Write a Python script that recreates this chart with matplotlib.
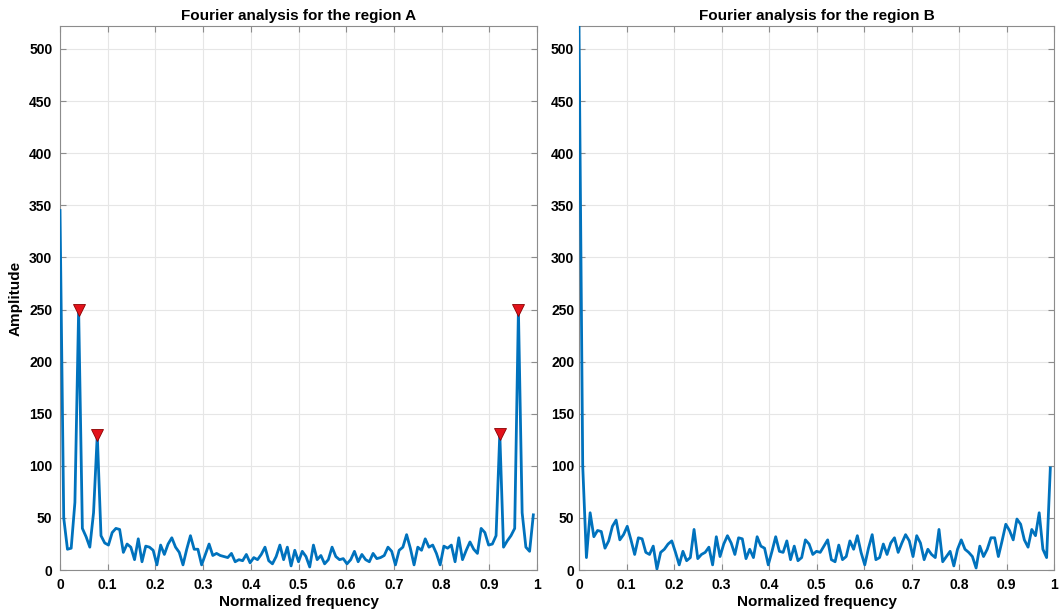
import matplotlib
matplotlib.use('Agg')
import matplotlib.pyplot as plt
import numpy as np

plt.rcParams['font.family'] = ['Liberation Sans', 'DejaVu Sans']
plt.rcParams['font.weight'] = 'bold'

# normalized frequency bins (128-point FFT)
n_bins = 128
freq = np.arange(n_bins) / n_bins

amp_a = [345, 50, 20, 21, 65, 250, 40, 32, 22, 55,
         130, 33, 26, 24, 36, 40, 39, 17, 25, 22,
         10, 30, 8, 23, 22, 19, 5, 24, 15, 25,
         31, 22, 17, 5, 20, 33, 20, 20, 5, 15,
         25, 14, 16, 14, 13, 12, 16, 8, 10, 9,
         15, 7, 12, 10, 15, 22, 9, 6, 13, 24,
         10, 22, 4, 19, 8, 18, 13, 3, 24, 10,
         14, 6, 10, 22, 13, 10, 11, 6, 10, 18,
         8, 15, 10, 8, 16, 11, 12, 14, 22, 18,
         5, 19, 22, 34, 21, 5, 22, 19, 30, 22,
         24, 16, 5, 23, 21, 24, 8, 31, 10, 19,
         27, 20, 16, 40, 36, 24, 25, 33, 131, 22,
         28, 33, 40, 250, 55, 22, 18, 53]

amp_b = [522, 100, 12, 55, 32, 38, 37, 21, 28, 42,
         48, 29, 34, 42, 29, 15, 31, 30, 17, 15,
         23, 1, 17, 20, 25, 28, 17, 5, 18, 9,
         12, 39, 11, 15, 17, 22, 5, 32, 13, 25,
         33, 26, 15, 31, 30, 11, 20, 12, 32, 23,
         21, 5, 18, 32, 18, 17, 28, 10, 23, 9,
         12, 29, 25, 15, 18, 17, 23, 29, 10, 8,
         24, 10, 13, 28, 20, 33, 17, 5, 21, 34,
         10, 12, 25, 15, 26, 31, 17, 26, 34, 28,
         13, 33, 26, 10, 20, 15, 12, 39, 8, 13,
         18, 4, 20, 29, 20, 17, 13, 2, 23, 13,
         20, 31, 31, 13, 28, 44, 38, 29, 49, 44,
         29, 22, 39, 33, 55, 20, 12, 98]

# peaks found in region A
peak_idx_a = [5, 10, 118, 123]

xticks = np.arange(0, 1.01, 0.1)
xtick_labels = ['0', '0.1', '0.2', '0.3', '0.4', '0.5', '0.6', '0.7', '0.8', '0.9', '1']
yticks = np.arange(0, 501, 50)

line_color = '#0072BD'
ymax = max(amp_b)

fig = plt.figure(figsize=(10.62, 6.13), dpi=100)
ax_a = fig.add_axes([0.0565, 0.070, 0.4492, 0.8876])
ax_b = fig.add_axes([0.5452, 0.070, 0.4473, 0.8876])

for ax, amp, name in [(ax_a, amp_a, 'A'), (ax_b, amp_b, 'B')]:
    ax.plot(freq, amp, color=line_color, linewidth=2.0, zorder=3)
    ax.set_xlim(0, 1)
    ax.set_ylim(0, ymax)
    ax.set_xticks(xticks)
    ax.set_xticklabels(xtick_labels)
    ax.set_yticks(yticks)
    ax.grid(True, color='#e6e6e6', linewidth=0.8)
    ax.set_axisbelow(True)
    ax.tick_params(direction='in', length=4, width=0.8, color='#8c8c8c',
                   top=True, right=True, labelsize=10, pad=5.5)
    for s in ax.spines.values():
        s.set_color('#8c8c8c')
        s.set_linewidth(0.8)
    ax.set_title('Fourier analysis for the region ' + name, fontsize=11,
                 fontweight='bold', pad=4)
    ax.set_xlabel('Normalized frequency', fontsize=11, fontweight='bold', labelpad=2)

ax_b.tick_params(axis='y', pad=3.5)

peak_f = freq[peak_idx_a]
peak_v = np.array(amp_a)[peak_idx_a]
ax_a.plot(peak_f, peak_v, linestyle='none', marker='v', markersize=8.5,
          markerfacecolor='#e3121b', markeredgecolor='#8b0000',
          markeredgewidth=0.6, zorder=4)

ax_a.set_ylabel('Amplitude', fontsize=11, fontweight='bold', labelpad=5)

fig.savefig('out.png', dpi=100)
